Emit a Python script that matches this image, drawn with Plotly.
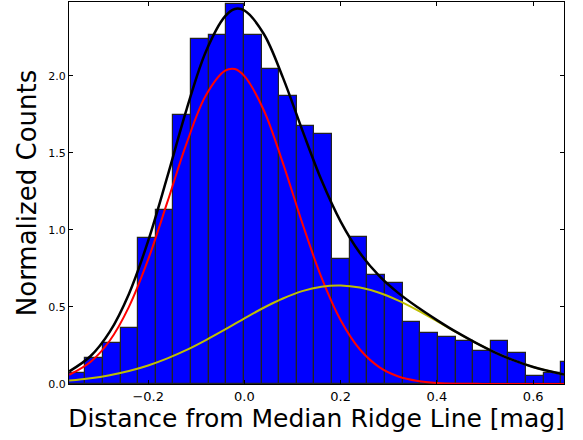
import numpy as np
import plotly.graph_objects as go

# Histogram of distances from the median ridge line (normalized counts)
bin_start = -0.3674
bin_width = 0.03664
bin_heights = [0.073, 0.167, 0.264, 0.366, 0.946, 1.13, 1.747, 2.242, 2.264,
               2.468, 2.264, 2.045, 1.872, 1.675, 1.625, 0.812, 0.957, 0.710,
               0.658, 0.400, 0.329, 0.305, 0.277, 0.216, 0.277, 0.203, 0.054,
               0.071, 0.141]

# Fitted model components, sampled along the x axis
curve_x = [-0.364, -0.32, -0.28, -0.24, -0.20, -0.16, -0.12, -0.08, -0.04, -0.02,
           0.00, 0.04, 0.08, 0.12, 0.16, 0.20, 0.24, 0.28, 0.32, 0.36, 0.40,
           0.44, 0.48, 0.52, 0.56, 0.60, 0.664]
narrow_comp = [0.060, 0.143, 0.281, 0.501, 0.809, 1.182, 1.564, 1.874, 2.034, 2.045,
               1.999, 1.779, 1.434, 1.047, 0.692, 0.414, 0.224, 0.110, 0.049, 0.020,
               0.007, 0.002, 0.001, 0.0, 0.0, 0.0, 0.0]
broad_comp = [0.022, 0.037, 0.057, 0.084, 0.120, 0.166, 0.221, 0.285, 0.354, 0.390,
              0.426, 0.495, 0.555, 0.603, 0.632, 0.640, 0.626, 0.592, 0.541, 0.478,
              0.408, 0.336, 0.268, 0.206, 0.153, 0.110, 0.061]
total_fit = [0.082, 0.180, 0.338, 0.585, 0.929, 1.348, 1.785, 2.159, 2.388, 2.435,
             2.425, 2.274, 1.989, 1.650, 1.324, 1.054, 0.850, 0.702, 0.590, 0.498,
             0.415, 0.338, 0.269, 0.206, 0.153, 0.110, 0.061]

x_ticks = [-0.2, 0.0, 0.2, 0.4, 0.6]
y_ticks = [0.0, 0.5, 1.0, 1.5, 2.0]

centers = bin_start + bin_width * (np.arange(len(bin_heights)) + 0.5)

fig = go.Figure()
fig.add_trace(go.Bar(
    x=centers, y=bin_heights, width=bin_width,
    marker=dict(color="#0000ff", line=dict(color="#222222", width=1.2)),
))
fig.add_trace(go.Scatter(x=curve_x, y=narrow_comp, mode="lines",
                         line=dict(color="#ff0000", width=2, shape="spline")))
fig.add_trace(go.Scatter(x=curve_x, y=broad_comp, mode="lines",
                         line=dict(color="#bfbf00", width=2, shape="spline")))
fig.add_trace(go.Scatter(x=curve_x, y=total_fit, mode="lines",
                         line=dict(color="#000000", width=2.5, shape="spline")))

axis_common = dict(showline=True, linecolor="#000000", linewidth=1, mirror="allticks",
                   ticks="inside", ticklen=4, tickcolor="#000000", showgrid=False,
                   zeroline=False)

fig.update_layout(
    width=583, height=440,
    margin=dict(l=69, r=19, t=2, b=56),
    paper_bgcolor="white", plot_bgcolor="white",
    showlegend=False, bargap=0,
    font=dict(family="DejaVu Sans", color="#000000"),
    xaxis=dict(range=[-0.3645, 0.664], tickvals=x_ticks, tickformat=".1f",
               tickfont=dict(size=13),
               title=dict(text="Distance from Median Ridge Line [mag]",
                          font=dict(size=25), standoff=3),
               **axis_common),
    yaxis=dict(range=[0, 2.48], tickvals=y_ticks, tickformat=".1f",
               tickfont=dict(size=11),
               title=dict(text="Normalized Counts", font=dict(size=26), standoff=4),
               **axis_common),
)

fig.write_html("out.html")
